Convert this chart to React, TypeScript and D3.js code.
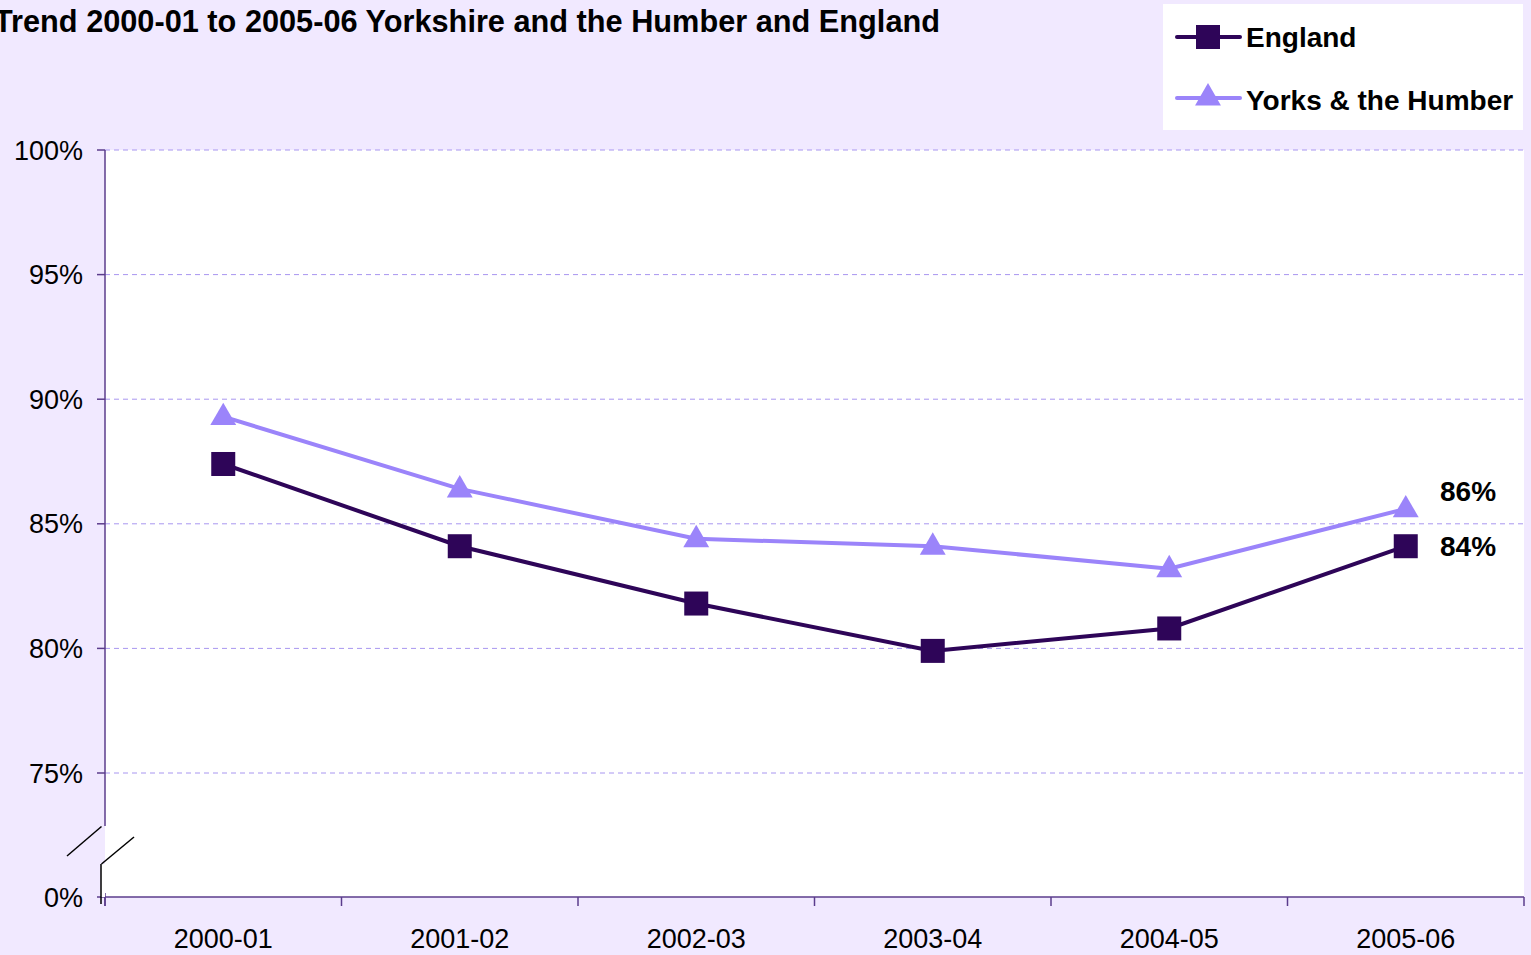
import React from "react";
import * as d3 from "d3";

const categories = ["2000-01", "2001-02", "2002-03", "2003-04", "2004-05", "2005-06"];
const englandValues = [87.4, 84.1, 81.8, 79.9, 80.8, 84.1];
const yorksValues = [89.3, 86.4, 84.4, 84.1, 83.2, 85.6];
const yTicks = [0, 75, 80, 85, 90, 95, 100];
const endLabels = ["86%", "84%"];
const title = "Trend 2000-01 to 2005-06 Yorkshire and the Humber and England";
const seriesNames = ["England", "Yorks & the Humber"];

const W = 1531, H = 955;
const left = 105, right = 1524, top = 150, bottom = 897;
const bg = "#F1E9FF";
const engColor = "#2E0558";
const yorkColor = "#9B84FA";
const axisColor = "#5B3C8C";
const gridColor = "#A896F0";
const font = "Liberation Sans, Arial, sans-serif";

export default function App() {
  const x = d3.scaleBand().domain(categories).range([left, right]);
  const cx = (c: string) => (x(c) as number) + x.bandwidth() / 2;
  const y = d3.scaleLinear().domain([0, 75, 100]).range([bottom, 773, top]);
  const line = d3.line<number>().x((_, i) => cx(categories[i])).y((v) => y(v));
  const tri = d3.symbol().type(d3.symbolTriangle).size(290)();
  const boundaries = d3.range(categories.length + 1).map((i) => left + i * x.bandwidth());

  const square = (px: number, py: number, key: string) => (
    <rect key={key} x={px - 12} y={py - 12} width={24} height={24} fill={engColor} />
  );
  const triangle = (px: number, py: number, key: string) => (
    <path key={key} d={tri as string} transform={`translate(${px},${py + 1})`} fill={yorkColor} />
  );

  return (
    <svg width={W} height={H} style={{ position: "absolute", left: 0, top: 0, display: "block" }} fontFamily={font}>
      <rect x={0} y={0} width={W} height={H} fill={bg} />
      <rect x={left} y={top} width={right - left} height={bottom - top} fill="#fff" />
      <text x={-6} y={32} fontSize={30.5} fontWeight="bold" fill="#000" textLength={946} lengthAdjust="spacingAndGlyphs">{title}</text>

      {yTicks.filter((t) => t > 0).map((t) => (
        <line key={"g" + t} x1={left} x2={right} y1={y(t)} y2={y(t)} stroke={gridColor} strokeWidth={1} strokeDasharray="5,4" />
      ))}
      {yTicks.map((t) => (
        <g key={"yt" + t}>
          <line x1={97} x2={left} y1={y(t)} y2={y(t)} stroke={axisColor} strokeWidth={1.5} />
          <text x={83} y={y(t) + 9.5} fontSize={27} textAnchor="end" fill="#000">{t}%</text>
        </g>
      ))}
      <line x1={left} x2={left} y1={top} y2={826} stroke={axisColor} strokeWidth={1.5} />
      <line x1={left} x2={left} y1={893} y2={bottom + 9} stroke={axisColor} strokeWidth={1.5} />
      <line x1={left} x2={right} y1={bottom} y2={bottom} stroke={axisColor} strokeWidth={1.5} />
      {boundaries.map((b, i) => (
        <line key={"xt" + i} x1={b} x2={b} y1={bottom} y2={bottom + 9} stroke={axisColor} strokeWidth={1.5} />
      ))}
      {categories.map((c) => (
        <text key={"xl" + c} x={cx(c)} y={948} fontSize={27} textAnchor="middle" fill="#000">{c}</text>
      ))}

      {/* axis break */}
      <rect x={101} y={864} width={left - 101} height={bottom - 864} fill="#fff" />
      <line x1={67} y1={856} x2={101.5} y2={826.5} stroke="#000" strokeWidth={1.5} />
      <line x1={101.5} y1={864} x2={134} y2={837} stroke="#000" strokeWidth={1.5} />
      <line x1={101} y1={864} x2={101} y2={904} stroke="#000" strokeWidth={1.5} />

      <path d={line(yorksValues) as string} fill="none" stroke={yorkColor} strokeWidth={4} />
      <path d={line(englandValues) as string} fill="none" stroke={engColor} strokeWidth={4} />
      {yorksValues.map((v, i) => triangle(cx(categories[i]), y(v), "t" + i))}
      {englandValues.map((v, i) => square(cx(categories[i]), y(v), "s" + i))}

      <text x={1440} y={y(yorksValues[5]) - 8} fontSize={28} fontWeight="bold" fill="#000">{endLabels[0]}</text>
      <text x={1440} y={y(englandValues[5]) + 10} fontSize={28} fontWeight="bold" fill="#000">{endLabels[1]}</text>

      {/* legend */}
      <rect x={1163} y={4} width={360} height={126} fill="#fff" />
      <line x1={1177} x2={1240} y1={37} y2={37} stroke={engColor} strokeWidth={4} strokeLinecap="round" />
      {square(1208, 37, "ls")}
      <text x={1246} y={47} fontSize={28} fontWeight="bold" fill="#000">{seriesNames[0]}</text>
      <line x1={1177} x2={1240} y1={98} y2={98} stroke={yorkColor} strokeWidth={4} strokeLinecap="round" />
      {triangle(1208, 97, "lt")}
      <text x={1246} y={110} fontSize={28} fontWeight="bold" fill="#000">{seriesNames[1]}</text>
    </svg>
  );
}
